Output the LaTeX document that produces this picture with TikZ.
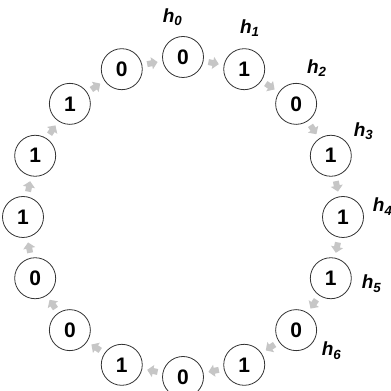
\documentclass[tikz,border=0pt]{standalone}
\usepackage{fontspec}
\setmainfont{Liberation Sans}
\usepackage{tikz}
\usetikzlibrary{arrows.meta, calc}

\begin{document}
\begin{tikzpicture}[
  x=1pt, y=1pt,
  bit/.style={draw=black!80, line width=0.8pt, circle, minimum size=41pt, inner sep=0pt,
              font=\fontsize{21}{21}\selectfont\bfseries},
  hlabel/.style={font=\fontsize{19}{19}\selectfont\bfseries\itshape},
  flow/.style={draw=gray!45, line width=6pt, -{Triangle[length=6pt, width=12pt]},
               shorten <=5pt, shorten >=5pt}]
\clip (0,0) rectangle (391,391);
\coordinate (c) at (183,174);
\foreach \v [count=\i from 0] in {0,1,0,1,1,1,0,1,0,1,0,0,1,1,1,0}
  \node[bit] (n\i) at ($(c)+({90-22.5*\i}:160)$) {\v};
\foreach \i [evaluate=\i as \j using {int(mod(\i+1,16))}] in {0,...,15}
  \draw[flow] (n\i) -- (n\j);
\foreach \i in {0,...,6}
  \node[hlabel] (h\i) at ($(c)+({93-22.5*\i}:200)$) {h\textsubscript{\i}};
\end{tikzpicture}
\end{document}
